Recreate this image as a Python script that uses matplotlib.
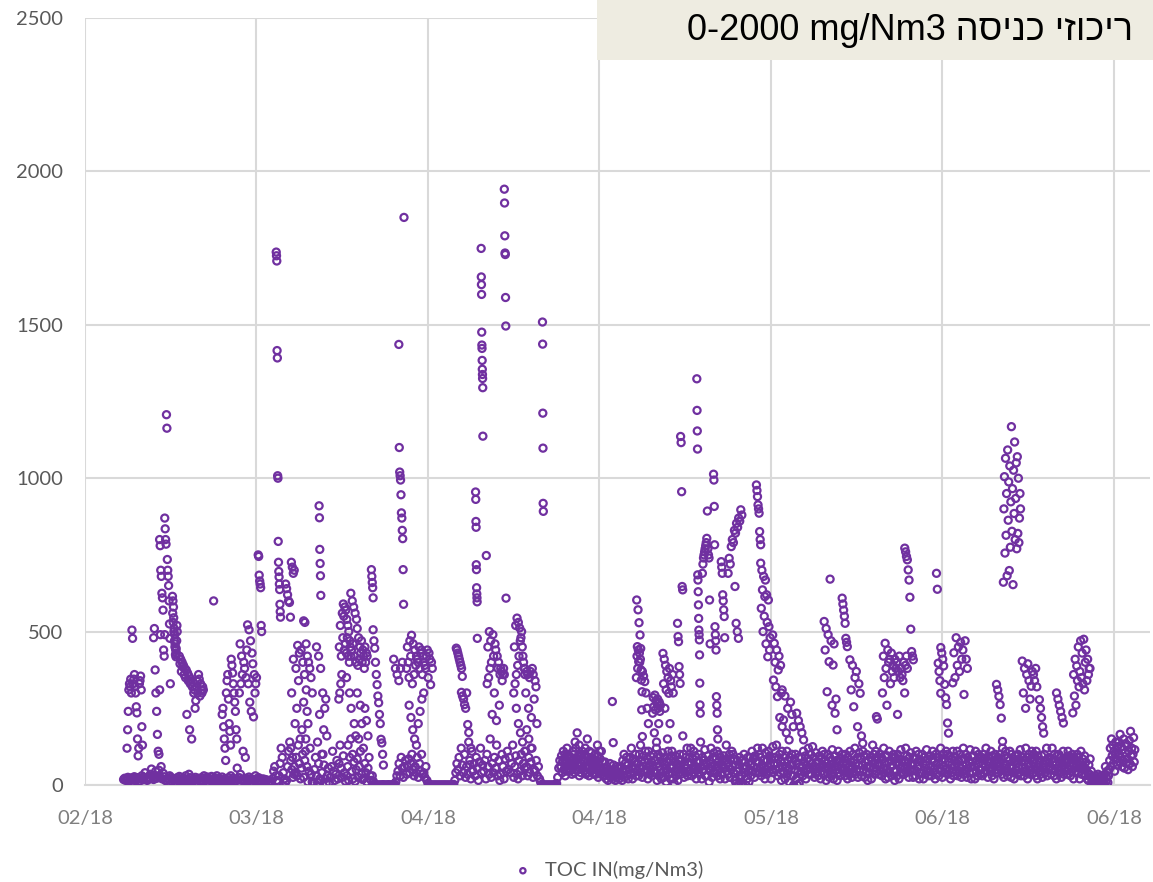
import matplotlib
matplotlib.use('Agg')
import matplotlib.pyplot as plt
import matplotlib.dates as mdates
from matplotlib.patches import Rectangle
from datetime import datetime, timedelta

# time axis: first tick date, 20 day major unit
start = datetime(2018, 2, 24)
tick_step = 20
n_ticks = 7
x_span = 124.2

# low band: one row per day from day 4.5 (mg/Nm3), readings spread over the day
base_from = 4.5
base_rows = [
    [18, 22, 15, 20, 25, 12, 19, 23], [16, 21, 27, 14, 18, 24, 20, 13],
    [22, 30, 17, 25, 40, 19, 15, 26], [20, 35, 52, 28, 18, 24, 45, 22],
    [30, 48, 25, 60, 20, 38, 27, 15], [14, 22, 18, 30, 25, 12, 20, 16],
    [10, 18, 24, 15, 28, 20, 12, 17], [22, 16, 30, 12, 18, 35, 24, 14],
    [12, 20, 15, 25, 10, 18, 22, 14], [16, 24, 12, 30, 20, 15, 26, 18],
    [20, 14, 28, 18, 12, 24, 16, 30], [14, 22, 10, 18, 26, 12, 20, 15],
    [18, 12, 24, 16, 30, 14, 22, 10], [12, 20, 55, 16, 24, 35, 18, 14],
    [16, 10, 22, 18, 12, 26, 20, 8], [10, 18, 14, 30, 20, 12, 24, 16],
    [14, 8, 20, 12, 18, 10, 16, 6], [5, 12, 8, 20, 45, 60, 30, 15],
    [10, 30, 70, 120, 90, 40, 20, 8], [15, 60, 110, 140, 80, 50, 25, 35],
    [40, 90, 30, 130, 70, 20, 55, 100], [25, 80, 150, 60, 10, 45, 120, 35],
    [10, 5, 50, 90, 30, 8, 70, 20], [15, 40, 100, 65, 20, 5, 30, 55],
    [8, 25, 60, 110, 45, 15, 35, 80], [20, 70, 130, 55, 25, 95, 40, 12],
    [30, 60, 15, 90, 150, 45, 20, 75], [12, 50, 85, 25, 60, 110, 35, 18],
    [22, 70, 40, 10, 55, 90, 30, 15], [30, 12, 4, 1, 0, 0, 0, 0],
    [0, 0, 1, 0, 0, 0, 0, 1], [0, 0, 0, 1, 0, 2, 10, 30],
    [45, 70, 30, 90, 55, 25, 60, 80], [35, 60, 85, 40, 70, 100, 50, 30],
    [60, 40, 90, 25, 70, 45, 100, 35], [40, 25, 60, 15, 5, 0, 0, 0],
    [0, 0, 0, 0, 0, 0, 0, 0], [0, 0, 0, 0, 0, 0, 0, 0],
    [0, 0, 0, 0, 2, 15, 40, 70], [50, 90, 30, 120, 65, 40, 100, 25],
    [60, 35, 140, 80, 20, 110, 45, 70], [30, 90, 55, 15, 75, 120, 40, 65],
    [45, 80, 20, 100, 60, 35, 150, 25], [70, 40, 90, 55, 130, 30, 80, 15],
    [35, 100, 60, 20, 85, 45, 110, 50], [90, 40, 70, 130, 25, 60, 95, 35],
    [20, 80, 45, 100, 30, 70, 55, 110], [60, 30, 90, 40, 75, 120, 25, 50],
    [45, 80, 30, 60, 20, 10, 2, 0], [0, 0, 0, 0, 0, 0, 0, 0],
    [0, 0, 0, 1, 5, 25, 55, 80],
    [60, 95, 40, 75, 110, 50, 85, 30, 70, 45, 90, 65, 100, 55],
    [70, 45, 90, 60, 35, 80, 55, 100, 40, 75, 120, 50, 85, 65],
    [50, 85, 30, 65, 95, 40, 70, 110, 55, 80, 45, 100, 60, 35],
    [40, 75, 55, 90, 30, 60, 80, 45, 105, 70, 50, 85, 35, 65],
    [65, 35, 80, 50, 95, 25, 70, 40, 85, 55, 110, 45, 75, 30],
    [55, 30, 75, 45, 20, 60, 35, 15, 50, 40, 70, 25, 45, 35],
    [40, 20, 65, 30, 50, 15, 45, 25, 60, 35, 55, 20, 40, 30],
    [30, 60, 15, 80, 45, 100, 25, 70, 50, 90, 35, 65, 20, 85],
    [50, 90, 35, 120, 60, 20, 85, 40, 75, 55, 100, 30, 70, 45],
    [70, 30, 100, 55, 130, 40, 80, 25, 60, 95, 45, 75, 110, 50],
    [45, 85, 20, 110, 60, 35, 95, 50, 75, 30, 65, 100, 40, 80],
    [80, 40, 120, 15, 70, 100, 30, 60, 90, 50, 20, 75, 105, 45],
    [25, 65, 90, 40, 10, 75, 50, 110, 35, 85, 60, 20, 95, 55],
    [60, 20, 85, 5, 45, 95, 30, 70, 50, 15, 80, 40, 100, 65],
    [35, 80, 50, 160, 100, 25, 65, 40, 90, 55, 120, 30, 75, 45],
    [90, 45, 120, 70, 30, 85, 55, 110, 40, 95, 60, 20, 75, 50],
    [50, 100, 35, 75, 140, 60, 20, 90, 45, 80, 65, 115, 30, 70],
    [70, 30, 95, 55, 10, 80, 45, 120, 60, 25, 90, 40, 105, 65],
    [40, 85, 60, 110, 30, 75, 100, 50, 20, 90, 65, 35, 80, 55],
    [95, 55, 20, 80, 130, 45, 70, 35, 60, 100, 25, 85, 50, 110],
    [60, 100, 40, 85, 15, 65, 5, 45, 80, 0, 55, 30, 90, 20],
    [2, 30, 80, 0, 55, 100, 40, 75, 0, 60, 20, 90, 45, 10],
    [50, 90, 30, 70, 110, 45, 85, 60, 25, 95, 40, 75, 55, 120],
    [75, 40, 100, 55, 90, 30, 65, 120, 45, 80, 60, 20, 105, 50],
    [35, 80, 60, 110, 45, 95, 70, 20, 85, 50, 125, 40, 65, 90],
    [90, 50, 130, 70, 30, 85, 55, 100, 40, 75, 15, 110, 60, 45],
    [40, 75, 20, 95, 60, 110, 35, 80, 55, 10, 90, 65, 30, 100],
    [65, 30, 0, 85, 50, 100, 20, 70, 0, 45, 90, 5, 60, 35],
    [45, 90, 60, 30, 110, 75, 40, 95, 20, 65, 85, 50, 120, 35],
    [80, 55, 100, 35, 70, 125, 50, 90, 25, 60, 105, 40, 75, 45],
    [30, 75, 95, 60, 20, 85, 45, 110, 65, 35, 100, 55, 80, 15],
    [70, 40, 100, 55, 25, 90, 65, 35, 80, 115, 50, 20, 95, 60],
    [95, 50, 80, 15, 60, 110, 40, 75, 30, 85, 55, 100, 45, 70],
    [55, 85, 30, 100, 45, 70, 20, 90, 60, 35, 110, 75, 50, 25],
    [60, 100, 40, 80, 120, 35, 70, 50, 90, 25, 65, 105, 45, 85],
    [85, 30, 65, 110, 50, 95, 25, 75, 40, 100, 60, 15, 80, 55],
    [40, 90, 60, 20, 80, 130, 55, 100, 35, 70, 110, 45, 85, 65],
    [70, 35, 100, 65, 45, 90, 30, 85, 55, 120, 40, 75, 20, 95],
    [50, 95, 25, 75, 110, 40, 80, 60, 30, 90, 65, 100, 45, 15],
    [90, 45, 70, 30, 100, 65, 20, 85, 55, 115, 40, 75, 60, 35],
    [35, 80, 55, 120, 40, 95, 60, 75, 25, 90, 50, 105, 70, 45],
    [65, 25, 90, 50, 85, 30, 110, 45, 75, 60, 100, 20, 80, 40],
    [80, 40, 100, 70, 20, 90, 55, 35, 65, 115, 45, 85, 30, 95],
    [45, 95, 60, 30, 85, 110, 40, 75, 55, 20, 100, 65, 35, 90],
    [70, 30, 90, 55, 120, 45, 80, 25, 100, 60, 40, 85, 50, 110],
    [55, 100, 35, 75, 50, 95, 20, 85, 65, 40, 110, 30, 80, 60],
    [90, 45, 70, 110, 30, 80, 60, 40, 100, 55, 25, 85, 65, 120],
    [35, 85, 50, 100, 65, 25, 90, 55, 75, 40, 115, 60, 20, 95],
    [75, 40, 95, 60, 20, 110, 45, 80, 30, 70, 100, 50, 85, 35],
    [50, 90, 30, 70, 100, 40, 85, 60, 120, 45, 75, 25, 95, 55],
    [85, 45, 110, 55, 30, 95, 65, 20, 80, 100, 40, 70, 50, 90],
    [40, 75, 60, 100, 50, 85, 35, 120, 70, 25, 95, 55, 110, 45],
    [65, 30, 90, 45, 80, 110, 55, 25, 100, 60, 40, 85, 20, 75],
    [95, 50, 70, 35, 100, 60, 85, 40, 115, 30, 75, 55, 90, 45],
    [30, 80, 55, 120, 45, 90, 20, 70, 100, 60, 35, 85, 50, 110],
    [75, 40, 100, 60, 85, 30, 110, 50, 20, 95, 65, 45, 80, 35],
    [45, 95, 25, 70, 55, 100, 40, 80, 60, 120, 30, 85, 50, 75],
    [90, 60, 35, 85, 120, 50, 75, 30, 100, 45, 65, 20, 95, 55],
    [55, 100, 70, 40, 90, 25, 80, 65, 110, 35, 75, 50, 85, 45],
    [35, 75, 110, 50, 95, 60, 30, 85, 45, 100, 70, 20, 90, 55],
    [80, 45, 65, 100, 40, 90, 55, 20, 75, 110, 35, 60, 85, 50],
    [60, 95, 30, 75, 50, 20, 40, 15, 65, 35, 85, 25, 45, 10],
    [10, 25, 5, 18, 30, 8, 12, 22, 15, 35, 6, 20, 28, 12],
    [15, 6, 20, 10, 28, 5, 35, 60, 12, 25, 45, 8, 30, 50],
    [80, 120, 60, 150, 95, 130, 70, 110, 45, 100, 140, 85, 65, 125],
    [100, 140, 75, 165, 90, 125, 60, 115, 80, 150, 55, 105, 135, 70],
    [85, 130, 50, 110, 145, 70, 175, 95, 120, 60, 100, 155, 75, 115],
]

# high episodes: (first day, last day, consecutive readings)
episodes = [
    (4.9, 6.7, [120, 180, 240, 310, 330, 320, 345, 300, 505, 478, 330, 345, 360,
                320, 300, 255, 235, 150, 95, 120, 330, 340, 355, 310, 190, 130]),
    (8.0, 8.8, [480, 510, 375, 300, 240, 165, 110, 100, 310, 490]),
    (8.7, 9.3, [800, 780, 700, 680, 625, 610, 570, 440, 420, 490]),
    (9.3, 9.95, [870, 835, 800, 785, 1207, 1163, 735, 700, 680, 650, 600, 525, 478, 330]),
    (10.2, 10.75, [615, 560, 600, 530, 580, 545, 500, 510, 470, 490, 450, 460, 425,
                   440, 418, 445, 430, 470, 520, 500]),
    (11.0, 13.8, [420, 395, 410, 370, 400, 385, 390, 360, 380, 350, 375, 230, 365, 340,
                  355, 180, 330, 345, 150, 320, 335, 300, 310, 250, 275, 320, 340, 300,
                  360, 345, 290, 330, 310, 300, 320, 310]),
    (15.0, 15.0, [600]),
    (16.0, 17.7, [230, 250, 190, 150, 120, 80, 300, 340, 360, 280, 200, 175, 130, 410,
                  390, 365, 330, 300, 270, 240, 180, 150]),
    (18.0, 20.0, [300, 460, 330, 420, 360, 110, 400, 380, 90, 350, 440, 522, 330, 506,
                  270, 470, 240, 430, 395, 222, 360, 300, 330, 350]),
    (20.2, 20.6, [750, 745, 684, 665, 655, 643, 520, 500]),
    (22.3, 22.8, [1737, 1725, 1708, 1416, 1392, 1008, 1000, 794, 726, 696, 678, 655,
                  637, 589, 565, 547]),
    (23.4, 24.4, [655, 640, 620, 600, 595, 547, 726, 710, 690, 700]),
    (24.0, 26.0, [120, 300, 90, 410, 60, 200, 380, 250, 455, 340, 430, 150, 440, 180,
                  400, 270, 360, 110, 310, 240, 200]),
    (25.5, 26.5, [535, 530, 460, 420, 400, 380, 350, 300]),
    (27.3, 27.5, [910, 871, 768, 722, 682, 618]),
    (27.0, 28.2, [450, 140, 420, 230, 380, 100, 300, 180, 250, 280, 160]),
    (29.6, 31.0, [280, 450, 300, 520, 330, 420, 360, 560, 480, 590, 550, 440, 580, 460,
                  570, 430, 540, 480, 520, 420, 500, 400, 470, 450, 420]),
    (31.0, 32.9, [625, 440, 600, 460, 580, 420, 560, 400, 540, 510, 390, 480, 410, 450,
                  430, 470, 400, 440, 420, 380, 450, 400, 430, 420]),
    (30.5, 33.0, [350, 130, 300, 250, 100, 200, 160, 300, 150, 260, 200, 120, 250, 210, 160]),
    (33.4, 33.6, [702, 680, 660, 643, 610]),
    (33.6, 34.8, [506, 470, 446, 400, 360, 327, 290, 268, 230, 200, 149, 137, 100, 65]),
    (36.0, 37.0, [410, 380, 360, 340, 380, 400]),
    (36.6, 37.2, [1436, 1100, 1020, 1008, 994, 946, 887, 870, 830, 803, 702, 589, 1850]),
    (37.5, 40.5, [380, 450, 400, 350, 470, 420, 488, 330, 460, 360, 440, 390, 420, 410,
                  400, 450, 380, 430, 440, 360, 420, 400, 390, 380, 420, 440, 350, 430,
                  410, 327, 400, 380]),
    (37.8, 39.5, [260, 220, 180, 150, 130, 200, 240, 280, 300]),
    (43.3, 44.0, [446, 440, 430, 420, 410, 400, 390, 380, 354]),
    (43.9, 45.0, [302, 290, 280, 262, 250, 300, 197, 171, 66, 120]),
    (45.55, 45.75, [955, 931, 859, 840, 718, 702, 643, 623, 610, 597, 478]),
    (46.2, 46.4, [1749, 1656, 1631, 1599, 1476, 1434, 1423, 1384, 1355, 1338, 1325,
                  1295, 1137]),
    (46.8, 46.8, [748]),
    (46.9, 48.9, [330, 450, 350, 500, 380, 470, 400, 230, 490, 420, 300, 460, 440, 210,
                  420, 380, 400, 260, 360, 380, 370, 340, 360, 380, 360]),
    (48.9, 49.1, [1942, 1897, 1790, 1734, 1729, 1589, 1496, 609]),
    (50.0, 51.3, [300, 450, 330, 520, 360, 544, 390, 530, 420, 512, 470, 480, 500, 450,
                  420, 400, 380, 360]),
    (51.3, 52.7, [380, 300, 370, 360, 250, 350, 370, 220, 380, 360, 280, 340, 320, 200]),
    (50.3, 52.0, [250, 200, 170, 140, 110, 180, 150, 120]),
    (53.35, 53.45, [1509, 1437, 1212, 1098, 918, 892]),
    (55.5, 60.0, [60, 80, 100, 120, 90, 70, 110, 140, 170, 130, 100, 80, 120, 150, 110,
                  90, 80, 100, 130, 110]),
    (61.5, 61.6, [272, 138]),
    (64.3, 65.0, [350, 603, 420, 451, 380, 571, 440, 402, 529, 430, 400, 489, 410, 445,
                  375, 342, 245, 304, 158]),
    (65.0, 65.7, [370, 355, 337, 300, 250, 200]),
    (66.2, 67.1, [234, 285, 255, 170, 293, 245, 275, 140, 265, 280, 250, 200, 270, 240, 260]),
    (67.4, 68.6, [429, 330, 410, 250, 390, 310, 370, 150, 350, 299, 380, 200, 340, 320,
                  110, 360, 300]),
    (69.1, 69.7, [527, 484, 467, 386, 360, 331, 1136, 1116, 956, 647, 636]),
    (71.35, 71.75, [1324, 1221, 1154, 1095, 685, 668, 630, 587, 543, 505, 490, 473, 424,
                    332, 261, 234]),
    (72.0, 72.9, [690, 720, 740, 750, 760, 770, 780, 790, 804, 893, 770, 750, 740, 603, 460]),
    (73.3, 73.8, [1013, 994, 908, 783, 516, 490, 470, 440, 288, 260, 234, 180, 150]),
    (74.2, 74.6, [728, 710, 690, 620, 600, 571, 549, 480]),
    (75.0, 76.6, [690, 739, 720, 777, 800, 790, 830, 821, 853, 840, 870, 860, 897, 880]),
    (75.8, 76.2, [647, 527, 500, 478]),
    (78.3, 78.8, [978, 960, 940, 913, 900, 886, 826, 800, 783]),
    (78.8, 79.9, [723, 576, 700, 636, 500, 680, 550, 614, 668, 460, 620, 530, 418, 603,
                  516, 440, 480]),
    (80.2, 81.3, [489, 342, 462, 400, 320, 440, 288, 375, 420, 220, 390, 300, 190]),
    (81.3, 82.6, [310, 212, 290, 170, 250, 147, 270, 230, 190]),
    (83.0, 83.8, [234, 210, 190, 170, 147]),
    (86.2, 87.7, [533, 440, 510, 304, 490, 402, 671, 470, 260, 391, 460, 234, 280, 180]),
    (88.3, 88.9, [609, 590, 570, 550, 527, 478, 465, 451]),
    (89.2, 90.7, [408, 310, 390, 255, 350, 370, 190, 330, 299, 160, 136]),
    (92.3, 92.4, [223, 215]),
    (93.0, 95.9, [300, 420, 350, 462, 380, 260, 440, 400, 410, 330, 430, 370, 390, 350,
                  410, 380, 400, 230, 370, 420, 350, 380, 360, 340, 400, 300, 390, 420, 380]),
    (95.6, 96.6, [772, 760, 745, 734, 701, 668, 612, 508, 435, 420, 408]),
    (99.3, 99.8, [690, 638, 397, 370, 340, 299]),
    (99.8, 100.7, [448, 430, 410, 388, 328, 284, 262, 202, 169]),
    (101.2, 102.9, [333, 431, 350, 480, 390, 450, 370, 465, 410, 440, 295, 470, 410, 380]),
    (106.3, 107.0, [328, 310, 289, 262, 218, 142]),
    (107.1, 109.1, [661, 900, 1005, 756, 1065, 814, 950, 682, 1092, 863, 988, 699, 1040,
                    775, 923, 1168, 827, 966, 653, 1026, 885, 1118, 800, 934, 1050, 770,
                    1070, 820, 1000, 790, 870, 950, 900]),
    (109.3, 111.0, [404, 300, 380, 250, 360, 395, 340, 280, 322, 370, 360, 340, 380, 320]),
    (111.3, 111.8, [278, 250, 220, 190, 169]),
    (113.3, 114.1, [300, 280, 260, 240, 220, 202]),
    (115.2, 117.2, [235, 360, 290, 410, 260, 388, 340, 450, 320, 370, 470, 350, 430, 330,
                    475, 310, 400, 440, 340, 410, 360, 380, 380]),
]

series_name = 'TOC IN(mg/Nm3)'
title_he = 'ריכוזי כניסה'
title_range = '0-2000 mg/Nm3'

purple = '#7030A0'
grid_c = '#D9D9D9'
ytext_c = '#595959'
xtext_c = '#7F7F7F'

times, vals = [], []
for k, row in enumerate(base_rows):
    for i, v in enumerate(row):
        times.append(start + timedelta(days=base_from + k + i / len(row)))
        vals.append(v)
for d0, d1, seq in episodes:
    n = len(seq)
    for i, v in enumerate(seq):
        d = d0 if n == 1 else d0 + (d1 - d0) * i / (n - 1)
        times.append(start + timedelta(days=d))
        vals.append(v)

W, H = 1153, 882
fig = plt.figure(figsize=(W / 100, H / 100), dpi=100)
ax = fig.add_axes([85 / W, (H - 785) / H, (1150 - 85) / W, (785 - 18) / H])

ax.scatter(times, vals, s=26, facecolors='none', edgecolors=purple,
           linewidths=1.6, label=series_name, zorder=3)

ticks = [start + timedelta(days=tick_step * i) for i in range(n_ticks)]
ax.set_xlim(start, start + timedelta(days=x_span))
ax.set_xticks(ticks)
ax.xaxis.set_major_formatter(mdates.DateFormatter('%m/%y'))
ax.set_ylim(0, 2500)
ax.set_yticks(range(0, 2501, 500))

ax.grid(True, color=grid_c, linewidth=1.5, zorder=0)
ax.set_axisbelow(True)
for s in ['left', 'right', 'top']:
    ax.spines[s].set_visible(False)
ax.spines['bottom'].set_color(grid_c)
ax.spines['bottom'].set_linewidth(1.5)
ax.tick_params(length=0, labelsize=14.5)
ax.tick_params(axis='y', pad=16, labelcolor=ytext_c)
ax.tick_params(axis='x', pad=18, labelcolor=xtext_c)
for lab in ax.get_xticklabels() + ax.get_yticklabels():
    lab.set_family('Lato')

leg = fig.legend(loc='center', bbox_to_anchor=(603 / W, 1 - 870 / H), frameon=False,
                 handletextpad=0.1, markerscale=0.75,
                 prop={'family': 'Lato', 'size': 14.5})
for t in leg.get_texts():
    t.set_color(ytext_c)

# title box, hebrew part reversed into visual order
fig.patches.append(Rectangle((597 / W, 1 - 60 / H), (W - 597) / W, 60 / H,
                             transform=fig.transFigure, facecolor='#EEECE1',
                             edgecolor='none', zorder=5))
fig.text(910 / W, 1 - 31 / H, title_range + ' ' + title_he[::-1], ha='center',
         va='center', fontsize=26, family=['Liberation Sans', 'DejaVu Sans'],
         color='black', zorder=6)

fig.savefig('out.png', dpi=100)
